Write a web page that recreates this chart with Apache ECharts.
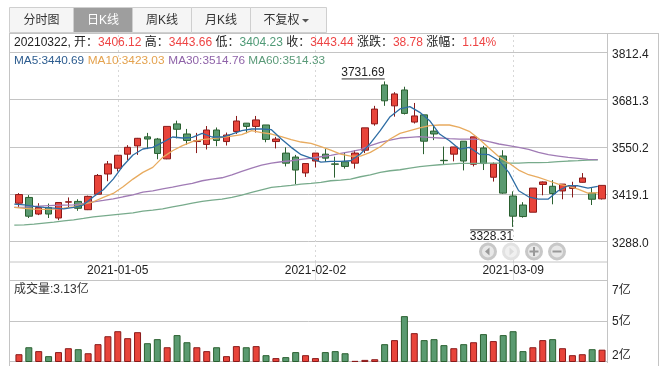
<!DOCTYPE html>
<html><head><meta charset="utf-8">
<style>html,body{margin:0;padding:0;background:#fff}#c{width:667px;height:374px}</style>
<script src="https://cdn.jsdelivr.net/npm/echarts@6/dist/echarts.min.js"></script>
</head><body><div id="c"></div>
<script>
const dates=['2020-12-21','2020-12-22','2020-12-23','2020-12-24','2020-12-25','2020-12-28','2020-12-29','2020-12-30','2020-12-31','2021-01-04','2021-01-05','2021-01-06','2021-01-07','2021-01-08','2021-01-11','2021-01-12','2021-01-13','2021-01-14','2021-01-15','2021-01-18','2021-01-19','2021-01-20','2021-01-21','2021-01-22','2021-01-25','2021-01-26','2021-01-27','2021-01-28','2021-01-29','2021-02-01','2021-02-02','2021-02-03','2021-02-04','2021-02-05','2021-02-08','2021-02-09','2021-02-10','2021-02-18','2021-02-19','2021-02-22','2021-02-23','2021-02-24','2021-02-25','2021-02-26','2021-03-01','2021-03-02','2021-03-03','2021-03-04','2021-03-05','2021-03-08','2021-03-09','2021-03-10','2021-03-11','2021-03-12','2021-03-15','2021-03-16','2021-03-17','2021-03-18','2021-03-19','2021-03-22'];
const opens=[3394,3410,3364,3382,3353,3397,3399,3376,3419,3475,3491,3530,3553,3578,3572,3517,3614,3586,3565,3557,3597,3565,3593,3616,3607,3611,3565,3533,3522,3478,3511,3530,3503,3509,3505,3541,3614,3722,3664,3708,3619,3639,3594,3513,3530,3566,3502,3547,3466,3525,3414,3389,3369,3446,3441,3428,3435,3452,3422,3406.12];
const closes=[3418,3358,3382,3364,3396,3398,3380,3413,3471,3503,3527,3549,3574,3572,3532,3607,3599,3568,3567,3597,3568,3583,3622,3607,3625,3571,3572,3505,3486,3504,3533,3519,3502,3496,3533,3603,3655,3678,3697,3643,3636,3566,3586,3512,3550,3511,3578,3504,3503,3422,3358,3357,3436,3453,3421,3447,3443,3464,3405,3443.44];
const lows=[3384,3353,3361,3353,3347,3382,3373,3375,3417,3455,3482,3514,3528,3544,3516,3516,3574,3556,3533,3543,3552,3554,3586,3588,3590,3563,3546,3496,3447,3467,3493,3509,3465,3490,3490,3533,3609,3664,3634,3640,3615,3530,3569,3500,3510,3485,3496,3486,3454,3420,3328.31,3354,3369,3416,3391,3405,3410,3451,3389,3404.23];
const highs=[3422,3416.5,3394,3393,3397,3410,3405,3415,3475,3511,3528,3555,3575,3589,3575,3607,3623,3600,3589,3608,3604,3590,3636,3616.5,3636,3611,3578,3549,3528,3504.5,3533,3544,3523,3535,3541,3603,3664,3731.69,3702,3717,3672,3639,3609,3551,3550,3566,3578,3553,3507,3541,3427,3397,3436,3454.5,3458,3447,3453.5,3477.6,3436,3443.66];
const volumes=[2.85,3.28,3.04,2.73,2.98,3.22,3.16,2.91,3.47,3.96,4.27,3.84,4.21,3.53,3.78,3.28,4.03,3.59,3.28,3.04,3.28,2.73,3.35,3.28,3.35,2.79,2.61,2.67,2.98,2.79,2.61,2.98,3.04,2.91,2.44,2.5,2.54,3.47,3.72,5.2,4.15,3.72,3.78,3.41,3.22,3.47,3.59,4.09,3.66,4.03,4.27,3.04,3.28,3.72,3.78,3.22,2.79,2.85,3.16,3.13];
const ma5=[3391.5,3389.6,3385,3382.2,3380.4,3378.5,3382.2,3389.6,3411.9,3431.3,3460.9,3498,3527.6,3544.3,3548.9,3562.8,3577.6,3574.8,3576.6,3587.7,3577.6,3577.6,3585.9,3595.2,3599.8,3599.8,3597.9,3572,3548.9,3528.5,3519.2,3508.1,3510,3510,3511.8,3530.3,3560,3595.2,3634,3655.3,3661.8,3646,3622.9,3585.9,3567.4,3544.2,3548.9,3530.4,3528.5,3511.9,3479.5,3428.6,3411.9,3405.4,3405.4,3428.6,3442.4,3442.4,3436,3440.69];
const ma10=[3382.2,3379.5,3377.6,3376.7,3377.6,3380.4,3384.1,3391.5,3398,3410,3421.1,3439.6,3460.9,3479.5,3493.3,3521.1,3539.6,3553.5,3564.6,3570.2,3572.9,3576.6,3580.3,3584,3595.2,3589.6,3585.9,3578.5,3570.2,3563.7,3560,3550.7,3541.5,3530.3,3524.8,3524.8,3535,3550.7,3572,3587.7,3595.2,3602.6,3609,3610.9,3610.9,3604.4,3593.3,3572,3547,3523,3505.4,3486,3473,3465.6,3456.3,3447,3441.6,3433.2,3422,3423.03];
const ma30=[3382.2,3383,3385,3386.9,3387.8,3388.7,3389.6,3393.3,3398,3401.7,3406.3,3411.9,3417.4,3424.8,3428.5,3434,3438.7,3444.2,3448.9,3456.3,3460.9,3464.6,3472.9,3482.2,3491.5,3499.8,3505.4,3509,3511.8,3515.5,3519.2,3522.9,3526.6,3532.2,3536.8,3542.4,3553.5,3562.8,3569.2,3574.8,3576.6,3578.5,3576.6,3574.8,3572.9,3572,3572,3571.1,3564.6,3558.2,3553.5,3548.9,3543.4,3535,3528.5,3524.8,3521.1,3518.4,3515.6,3514.76];
const ma60=[3333.2,3334.1,3336,3338.7,3341.5,3345.2,3348,3351.7,3356.3,3359.1,3361.9,3364.7,3367.4,3372,3374.8,3378.5,3384,3389,3394,3399,3402.6,3405.4,3410,3416.5,3423.9,3431.3,3437.8,3440.5,3443.3,3447,3448.9,3451.6,3456.3,3458.1,3460.9,3467.4,3472.9,3479.4,3484,3486.8,3491.5,3495.2,3498,3500.7,3502.6,3504.4,3504.4,3504.4,3505.4,3505.4,3505.4,3505.4,3506.3,3506.3,3507.2,3509.1,3511,3511.9,3513.7,3514.33];
const priceTicks=[3288.0,3419.1,3550.2,3681.3,3812.4];
const volumeTicks=[2.4,4.9,7.4];
const dateLabels=['2021-01-05','2021-02-02','2021-03-09'];
const tabs=['分时图','日K线','周K线','月K线','不复权'];

const FONT='"Liberation Sans","Noto Sans CJK SC",sans-serif';
const RED='#e8443a',REDB='#8a1a1a',GRN='#5a9a70',GRNB='#2a6030';
const LINE='#c4c4c4';
const PMIN=3231,PMAX=3866;
const VMIN=2.4,VMAX=7.4;
const candle=dates.map((_,i)=>[opens[i],closes[i],lows[i],highs[i]]);
const isDate=(i)=>dateLabels.includes(dates[i]);
const lineS=(name,d,c)=>({name,type:'line',data:d,xAxisIndex:2,yAxisIndex:2,symbol:'none',lineStyle:{color:c,width:1.3},silent:true,z:5});

const chart=echarts.init(document.getElementById('c'),null,{renderer:'canvas'});
chart.setOption({
 animation:false,backgroundColor:'#fff',textStyle:{fontFamily:FONT},
 grid:[
  {left:9.5,top:33,width:597.5,height:229},
  {left:14,top:33,width:593,height:229},
  {left:14.3,top:33,width:583.5,height:229},
  {left:9.5,top:280.5,width:597.5,height:81},
  {left:14,top:280.5,width:593,height:81}
 ],
 xAxis:[
  {type:'value',gridIndex:0,show:false,min:0,max:1},
  {type:'category',gridIndex:1,data:dates,
   axisLine:{show:false},
   axisTick:{show:true,alignWithLabel:true,length:18,interval:(i)=>isDate(i),lineStyle:{color:'#e2e2e2'}},
   axisLabel:{show:true,interval:(i)=>isDate(i),color:'#222',fontSize:12,fontFamily:FONT,margin:3,verticalAlign:'top',hideOverlap:false},
   splitLine:{show:false}},
  {type:'category',gridIndex:2,data:dates,boundaryGap:false,show:false},
  {type:'value',gridIndex:3,show:false,min:0,max:1},
  {type:'category',gridIndex:4,data:dates,show:false}
 ],
 yAxis:[
  {type:'value',gridIndex:0,position:'right',min:PMIN,max:PMAX,
   axisLine:{show:false},
   axisTick:{show:true,customValues:priceTicks,length:5,lineStyle:{color:LINE}},
   axisLabel:{show:true,customValues:priceTicks,formatter:(v)=>'{n|'+v.toFixed(1)+'}',
     rich:{n:{padding:[4,0,0,0],fontSize:12,color:'#222',fontFamily:FONT}},
     color:'#222',fontSize:12,fontFamily:FONT,margin:5},
   splitLine:{show:true,lineStyle:{color:LINE,width:1}}},
  {type:'value',gridIndex:1,min:PMIN,max:PMAX,show:false},
  {type:'value',gridIndex:2,min:PMIN,max:PMAX,show:false},
  {type:'value',gridIndex:3,position:'right',min:VMIN,max:VMAX,
   axisLine:{show:false},
   axisTick:{show:true,customValues:volumeTicks,length:5,lineStyle:{color:LINE}},
   axisLabel:{show:true,customValues:volumeTicks,
     formatter:(v)=>(v===volumeTicks[2]?'{t|':'{n|')+Math.round(v)+'亿}',
     rich:{t:{padding:[21,0,0,0],fontSize:12,color:'#222',fontFamily:FONT},n:{padding:[2,0,0,0],fontSize:12,color:'#222',fontFamily:FONT}},
     color:'#222',fontSize:12,fontFamily:FONT,margin:5,verticalAlignMinLabel:'bottom'},
   splitLine:{show:true,lineStyle:{color:LINE,width:1}}},
  {type:'value',gridIndex:4,min:VMIN,max:VMAX,show:false}
 ],
 series:[
  {type:'candlestick',name:'K',data:candle,xAxisIndex:1,yAxisIndex:1,barWidth:7,silent:true,z:3,
   itemStyle:{color:RED,color0:GRN,borderColor:REDB,borderColor0:GRNB,borderWidth:1},
   markLine:{silent:true,symbol:'none',animation:false,label:{show:false},z:1,
    lineStyle:{color:'#d8d8d8',type:[2,3],width:1},
    data:dateLabels.map(d=>({xAxis:d}))}},
  lineS('MA60',ma60,'#78ab8c'),
  lineS('MA30',ma30,'#a07bb5'),
  lineS('MA10',ma10,'#e8ab5f'),
  lineS('MA5',ma5,'#2e6da4'),
  {type:'bar',name:'VOL',xAxisIndex:4,yAxisIndex:4,barWidth:7,silent:true,z:3,
   data:volumes.map((v,i)=>({value:v,itemStyle:{color:closes[i]>=opens[i]?RED:GRN,borderColor:closes[i]>=opens[i]?REDB:GRNB,borderWidth:1}}))}
 ]
});

function seg(x1,y1,x2,y2,c){return {type:'line',silent:true,z:20,shape:{x1,y1,x2,y2},style:{stroke:c||LINE,lineWidth:1}};}
const g=[];
g.push(seg(9.5,33.5,658.5,33.5),seg(9.5,33,9.5,366),seg(607.5,33,607.5,363),seg(658.5,33,658.5,366),seg(9.5,262,607.5,262),seg(9.5,280.5,607.5,280.5));
const tabX=[[9.5,73.5],[73.5,132.5],[132.5,191.5],[191.5,250.5],[250.5,326.5]];
tabs.forEach((t,i)=>{
 const [a,b]=tabX[i];
 g.push({type:'rect',silent:true,z:20,shape:{x:a,y:7.5,width:b-a,height:25},style:{fill:i===1?'#9e9e9e':'#f5f5f5',stroke:'#cfcfcf',lineWidth:1}});
 g.push({type:'text',silent:true,z:21,style:{x:i===4?a+13:(a+b)/2,y:20.5,text:t,fill:i===1?'#fff':'#333',font:'12px '+FONT,align:i===4?'left':'center',verticalAlign:'middle'}});
});
g.push({type:'polygon',silent:true,z:21,shape:{points:[[302,19],[309,19],[305.5,22.5]]},style:{fill:'#555'}});
const rich={k:{fill:'#222',font:'12px '+FONT},r:{fill:'#ee4444',font:'12px '+FONT},g:{fill:'#4f9a76',font:'12px '+FONT}};
const L=dates.length-1,fmt=(v)=>v.toFixed(2);
const chg=38.78,pct='1.14%';
g.push({type:'text',silent:true,z:21,style:{x:14,y:43,verticalAlign:'middle',rich,text:
 `{k|${dates[L].replace(/-/g,'')}, 开：}{r|${fmt(opens[L])}} {k|高：}{r|${fmt(highs[L])}} {k|低：}{g|${fmt(lows[L])}} {k|收：}{r|${fmt(closes[L])}} {k|涨跌：}{r|${fmt(chg)}} {k|涨幅：}{r|${pct}}`}});
[['MA5',ma5,'#2c5c8f',14],['MA10',ma10,'#e4a24e',87.7],['MA30',ma30,'#8e62a8',168.3],['MA60',ma60,'#5a9a78',248.3]].forEach(([n,d,c,x])=>{
 g.push({type:'text',silent:true,z:21,style:{x,y:61,verticalAlign:'middle',text:n+':'+fmt(d[L]),fill:c,font:'11.8px '+FONT}});
});
g.push({type:'text',silent:true,z:21,style:{x:14,y:290,verticalAlign:'middle',text:'成交量:'+volumes[L]+'亿',fill:'#333',font:'12px '+FONT}});
const hi=highs.indexOf(Math.max(...highs)),lo=lows.indexOf(Math.min(...lows));
const hp=chart.convertToPixel({gridIndex:1},[hi,highs[hi]]),lp=chart.convertToPixel({gridIndex:1},[lo,lows[lo]]);
g.push(seg(hp[0]-43,hp[1]-2.5,hp[0],hp[1]-2.5,'#333'));
g.push({type:'text',silent:true,z:21,style:{x:hp[0],y:hp[1]-9,text:fmt(highs[hi]),fill:'#222',font:'12px '+FONT,align:'right',verticalAlign:'middle'}});
g.push(seg(lp[0]-43,lp[1]+3,lp[0],lp[1]+3,'#333'));
g.push({type:'text',silent:true,z:21,style:{x:lp[0],y:lp[1]+10,text:fmt(lows[lo]),fill:'#222',font:'12px '+FONT,align:'right',verticalAlign:'middle'}});
[[488,0],[511,1],[534,2],[557,3]].forEach(([x,k])=>{
 const y=251.5,faint=k===1;
 g.push({type:'circle',silent:true,z:21,shape:{cx:x,cy:y,r:7.5},style:{fill:faint?'#f0f0f0':'#e8e8e8',stroke:faint?'#e2e2e2':'#c8c8c8',lineWidth:3}});
 const c=faint?'#dcdcdc':'#999';
 if(k===0) g.push({type:'polygon',silent:true,z:22,shape:{points:[[x-3,y],[x+1.5,y-4],[x+1.5,y+4]]},style:{fill:c}});
 if(k===1) g.push({type:'polygon',silent:true,z:22,shape:{points:[[x+3,y],[x-1.5,y-4],[x-1.5,y+4]]},style:{fill:c}});
 if(k>=2) g.push({type:'rect',silent:true,z:22,shape:{x:x-4.5,y:y-1,width:9,height:2},style:{fill:c}});
 if(k===2) g.push({type:'rect',silent:true,z:22,shape:{x:x-1,y:y-4.5,width:2,height:9},style:{fill:c}});
});
chart.setOption({graphic:{elements:g}});
</script></body></html>
